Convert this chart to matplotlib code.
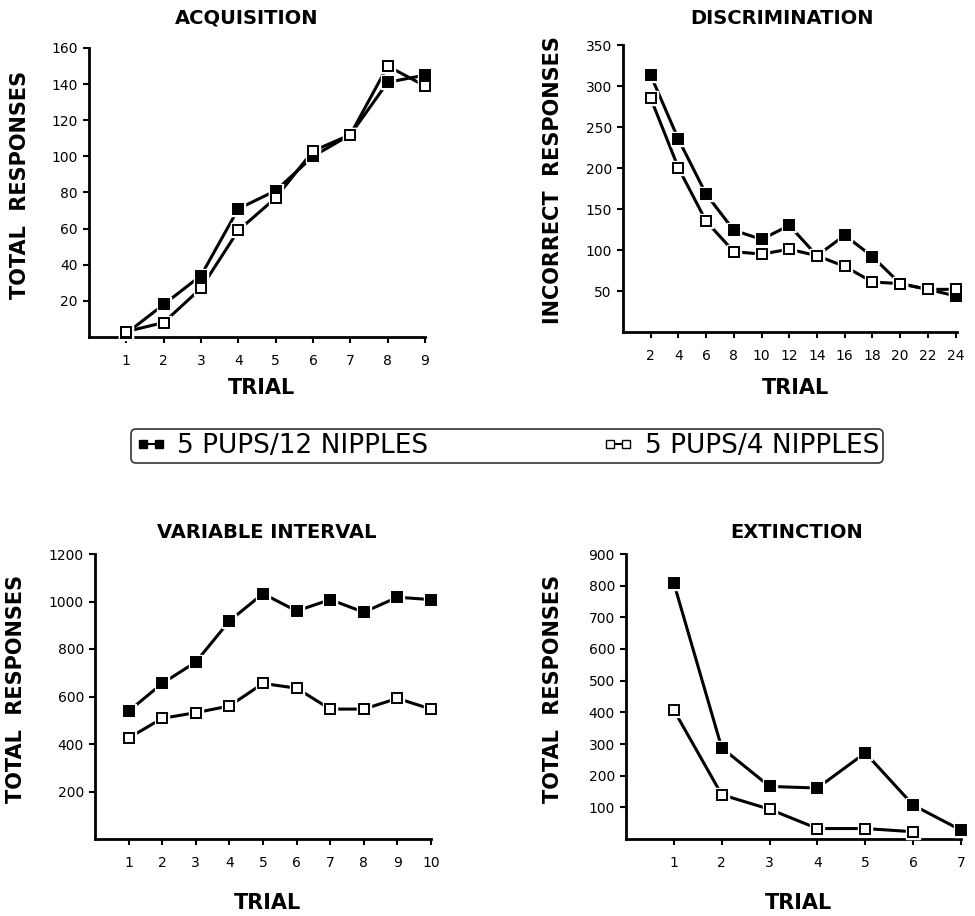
import matplotlib
matplotlib.use("Agg")
import matplotlib.pyplot as plt
from matplotlib.lines import Line2D

# data
acq_trials = [1, 2, 3, 4, 5, 6, 7, 8, 9]
acq_12 = [2, 18, 34, 71, 81, 100, 112, 141, 145]
acq_4 = [3, 8, 27, 59, 77, 103, 112, 150, 139]

dis_trials = [2, 4, 6, 8, 10, 12, 14, 16, 18, 20, 22, 24]
dis_12 = [313, 235, 168, 124, 113, 130, 93, 118, 92, 59, 52, 44]
dis_4 = [285, 200, 135, 98, 95, 101, 93, 80, 61, 59, 52, 52]

vi_trials = [1, 2, 3, 4, 5, 6, 7, 8, 9, 10]
vi_12 = [538, 655, 745, 918, 1033, 960, 1008, 955, 1018, 1008]
vi_4 = [425, 508, 532, 560, 655, 635, 547, 547, 592, 547]

ext_trials = [1, 2, 3, 4, 5, 6, 7]
ext_12 = [808, 288, 166, 161, 272, 107, 28]
ext_4 = [407, 140, 94, 33, 33, 23]

label_12 = "5 PUPS/12 NIPPLES"
label_4 = "5 PUPS/4 NIPPLES"

W, H = 975, 916
fig = plt.figure(figsize=(W / 100, H / 100), dpi=100)


def px_axes(l, t, r, b):
    return fig.add_axes([l / W, 1 - b / H, (r - l) / W, (b - t) / H])


def draw_series(ax, x, y, filled):
    ax.plot(x, y, color="black", lw=2.2, zorder=2, clip_on=False)
    # white halo behind markers gives the small gaps seen in the print
    ax.plot(x, y, ls="none", marker="s", ms=10.5, mfc="white", mec="white",
            zorder=3, clip_on=False)
    ax.plot(x, y, ls="none", marker="s", ms=7, clip_on=False,
            mfc="black" if filled else "white", mec="black", mew=1.4, zorder=4)


def style(ax, xlim, ylim, xticks, yticks):
    ax.set_xlim(*xlim)
    ax.set_ylim(*ylim)
    ax.set_xticks(xticks)
    ax.set_yticks(yticks)
    for s in ["top", "right"]:
        ax.spines[s].set_visible(False)
    for s in ["left", "bottom"]:
        ax.spines[s].set_linewidth(2)
    ax.tick_params(direction="out", length=4, width=1.5, labelsize=10, pad=4)
    ax.tick_params(axis="x", pad=8)


panels = [
    # title, ylabel, trials, series12, series4, box(l,t,r,b), xlim, ylim, xticks, yticks, title xy, ylabel x, trial y
    ("ACQUISITION", "TOTAL  RESPONSES", acq_trials, acq_12, acq_4,
     (89, 48, 425, 337), (0, 9), (0, 160), acq_trials, range(20, 161, 20),
     (247, 18), 20, 388),
    ("DISCRIMINATION", "INCORRECT  RESPONSES", dis_trials, dis_12, dis_4,
     (623, 45, 957, 332), (0, 24.1), (0, 350), dis_trials, range(50, 351, 50),
     (782, 18), 553, 388),
    ("VARIABLE INTERVAL", "TOTAL  RESPONSES", vi_trials, vi_12, vi_4,
     (95, 554, 431, 839), (0, 10), (0, 1200), vi_trials, range(200, 1201, 200),
     (267, 533), 16, 903),
    ("EXTINCTION", "TOTAL  RESPONSES", ext_trials, ext_12, ext_4,
     (626, 554, 961, 839), (0, 7), (0, 900), ext_trials, range(100, 901, 100),
     (797, 533), 553, 903),
]

for (title, ylab, trials, s12, s4, box, xlim, ylim, xt, yt,
     txy, ylx, trial_y) in panels:
    ax = px_axes(*box)
    draw_series(ax, trials, s12, True)
    draw_series(ax, trials[:len(s4)], s4, False)
    style(ax, xlim, ylim, xt, list(yt))
    fig.text(txy[0] / W, 1 - txy[1] / H, title, ha="center", va="center",
             fontsize=14, fontweight="bold")
    fig.text(ylx / W, 1 - ((box[1] + box[3]) / 2 - 8) / H, ylab, rotation=90,
             ha="center", va="center", fontsize=15, fontweight="bold")
    fig.text(((box[0] + box[2]) / 2 + 5) / W, 1 - trial_y / H, "TRIAL",
             ha="center", va="center", fontsize=15, fontweight="bold")

# shared legend between the two rows
handles = [
    Line2D([0], [0], color="black", lw=1.5, marker="s", ms=6, mfc="black", mec="black"),
    Line2D([0], [0], color="black", lw=1.5, marker="s", ms=6, mfc="white", mec="black"),
]
leg = fig.legend(handles, [label_12, label_4], loc="center",
                 bbox_to_anchor=(507 / W, 1 - 446 / H), ncol=2, fontsize=19,
                 handlelength=1.2, handletextpad=0.4, columnspacing=6.6,
                 numpoints=2, frameon=True, fancybox=True, borderpad=0.15,
                 borderaxespad=0)
leg.get_frame().set_edgecolor("black")
leg.get_frame().set_linewidth(1.2)

fig.savefig("out.png", dpi=100)
